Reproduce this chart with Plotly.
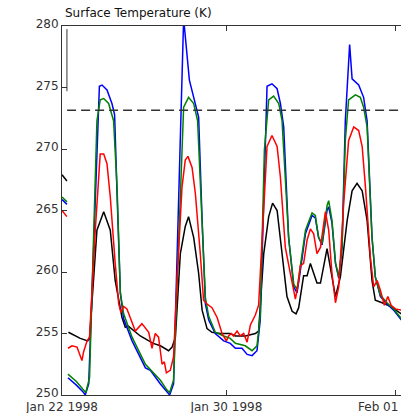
import plotly.graph_objects as go

# ---- axis labels / ticks ----
X_TICK_POS = [0, 8, 16.23]
X_TICK_LABELS = ["Jan 22 1998", "Jan 30 1998", "Feb 01 1998"]
Y_TICKS = [250, 255, 260, 265, 270, 275, 280]
FREEZING = 273.15
TITLE = "Surface Temperature (K)"

# ---- short stubs at the very left edge (earlier data) ----
STUB_T = [0.0, 0.24]
BLACK_STUB = [267.9, 267.4]
BLUE_STUB = [265.9, 265.5]
GREEN_STUB = [266.1, 265.7]
RED_STUB = [265.0, 264.5]

# ---- main series (time in days-like units, temperature in K) ----
BLACK_T = [0.31, 0.89, 1.25, 1.34, 1.70, 2.03, 2.35, 2.59, 2.92, 3.08, 3.23, 3.81, 4.44, 4.79,
           5.19, 5.36, 5.52, 5.76, 6.00, 6.16, 6.41, 6.65, 6.82, 7.06, 7.30, 7.71, 8.19, 8.44,
           8.93, 9.41, 9.57, 9.82, 10.06, 10.25, 10.47, 10.71, 10.95, 11.20, 11.39, 11.52,
           11.76, 11.93, 12.09, 12.41, 12.58, 12.90, 13.06, 13.31, 13.55, 13.88, 14.12, 14.36,
           14.61, 14.85, 15.09, 15.25, 15.58, 15.98, 16.52]
BLACK_V = [255.1, 254.6, 254.4, 254.6, 263.4, 264.9, 263.4, 259.3, 256.3, 255.5, 255.6, 254.8,
           254.2, 254.0, 253.6, 253.9, 254.7, 261.5, 263.7, 264.5, 262.8, 259.9, 256.9, 255.4,
           255.1, 255.0, 255.0, 254.8, 254.8, 255.0, 255.2, 261.5, 264.5, 265.6, 265.0, 261.5,
           258.0, 256.8, 256.6, 257.1, 259.7, 259.7, 260.7, 259.1, 259.1, 261.9, 260.4, 258.0,
           259.6, 264.2, 266.6, 267.2, 266.6, 264.2, 259.3, 257.7, 257.5, 257.2, 256.6]

BLUE_T = [0.29, 0.70, 1.05, 1.13, 1.30, 1.82, 1.95, 2.19, 2.43, 2.56, 2.69, 2.84, 3.00, 3.41,
          4.06, 4.30, 4.79, 5.11, 5.24, 5.43, 5.92, 6.20, 6.41, 6.65, 6.82, 6.98, 7.14, 7.46,
          7.87, 8.19, 8.44, 8.76, 9.01, 9.25, 9.49, 9.65, 9.98, 10.22, 10.47, 10.63, 10.79,
          11.03, 11.28, 11.44, 11.60, 11.85, 12.17, 12.33, 12.49, 12.66, 12.90, 12.98, 13.14,
          13.31, 13.47, 13.63, 13.79, 14.00, 14.12, 14.44, 14.68, 14.85, 15.09, 15.25, 15.50,
          15.82, 16.14, 16.52]
BLUE_V = [251.4, 250.8, 250.2, 250.0, 250.9, 275.1, 275.2, 274.8, 273.7, 272.8, 265.8, 258.3,
          256.2, 254.4, 252.2, 252.0, 250.9, 250.2, 250.0, 250.9, 280.6, 275.6, 274.2, 272.6,
          264.2, 257.4, 256.1, 255.0, 254.4, 254.2, 253.8, 253.8, 253.3, 253.2, 253.6, 256.1,
          275.1, 275.3, 274.9, 273.7, 271.8, 262.8, 258.8, 258.3, 260.1, 263.1, 264.6, 264.4,
          262.8, 262.2, 265.0, 265.3, 264.0, 260.7, 259.5, 262.0, 272.3, 278.5, 275.7, 275.2,
          274.2, 272.3, 262.8, 259.6, 258.0, 257.4, 256.9, 256.1]

GREEN_T = [0.29, 0.70, 1.05, 1.16, 1.34, 1.70, 1.86, 2.03, 2.27, 2.51, 2.68, 2.84, 3.00, 3.41,
           4.06, 4.30, 4.79, 5.11, 5.24, 5.43, 5.76, 5.92, 6.16, 6.41, 6.60, 6.82, 6.98, 7.14,
           7.46, 7.87, 8.19, 8.44, 8.92, 9.25, 9.49, 9.65, 9.85, 10.06, 10.30, 10.55, 10.71,
           11.03, 11.28, 11.44, 11.60, 11.85, 12.17, 12.33, 12.49, 12.66, 12.90, 12.98, 13.14,
           13.31, 13.47, 13.63, 13.79, 13.95, 14.28, 14.52, 14.68, 14.85, 15.09, 15.25, 15.50,
           15.82, 16.14, 16.52]
GREEN_V = [251.7, 251.1, 250.4, 250.2, 251.4, 272.3, 274.0, 274.1, 273.7, 272.3, 266.9, 258.3,
           256.6, 254.7, 252.5, 252.1, 251.2, 250.4, 250.2, 251.2, 265.8, 273.4, 274.2, 273.7,
           272.3, 264.2, 257.9, 256.4, 255.1, 254.8, 254.6, 254.2, 254.0, 253.6, 254.0, 256.5,
           269.9, 274.0, 274.3, 273.7, 272.3, 262.8, 259.0, 258.6, 260.5, 263.4, 264.8, 264.6,
           262.8, 262.3, 265.4, 265.8, 264.2, 260.8, 259.6, 262.0, 270.7, 274.0, 274.4, 274.2,
           273.4, 271.8, 262.8, 259.6, 258.1, 257.5, 257.0, 256.2]

RED_T = [0.29, 0.49, 0.73, 0.97, 1.05, 1.22, 1.34, 1.62, 1.86, 2.03, 2.19, 2.35, 2.59, 2.76,
         2.87, 3.00, 3.16, 3.33, 3.57, 3.89, 4.22, 4.38, 4.54, 4.70, 4.87, 4.98, 5.08, 5.27,
         5.43, 5.60, 5.84, 6.00, 6.13, 6.33, 6.49, 6.73, 6.89, 7.06, 7.30, 7.55, 7.79, 8.00,
         8.11, 8.24, 8.35, 8.52, 8.68, 8.84, 9.01, 9.17, 9.41, 9.57, 9.82, 9.98, 10.22, 10.47,
         10.63, 10.87, 11.11, 11.36, 11.52, 11.60, 11.76, 11.93, 12.09, 12.25, 12.41, 12.58,
         12.82, 12.98, 13.14, 13.31, 13.47, 13.71, 13.95, 14.20, 14.44, 14.61, 14.77, 15.01,
         15.17, 15.34, 15.50, 15.69, 15.86, 16.02, 16.23, 16.52]
RED_V = [253.8, 254.0, 253.9, 252.8, 253.5, 254.4, 254.7, 263.4, 269.6, 269.6, 268.8, 266.1,
         260.7, 257.4, 256.7, 257.2, 257.0, 256.3, 255.2, 255.8, 255.1, 253.8, 255.0, 254.7,
         252.5, 252.7, 251.8, 252.0, 253.1, 259.3, 266.9, 269.1, 269.4, 268.5, 266.4, 261.5,
         257.7, 257.4, 257.1, 256.3, 255.0, 254.4, 254.8, 255.0, 254.8, 255.2, 254.8, 255.0,
         254.3, 255.7, 256.5, 257.3, 265.6, 270.2, 271.1, 270.2, 267.7, 262.0, 259.9, 257.8,
         259.3, 260.5, 260.7, 262.6, 263.5, 263.1, 261.5, 262.0, 264.9, 263.4, 259.9, 257.5,
         258.8, 265.6, 270.7, 271.8, 271.5, 270.2, 266.9, 261.2, 258.8, 259.3, 258.5, 257.3,
         258.0, 257.3, 257.0, 256.9]

series = [
    ("black", "#000000", BLACK_STUB, BLACK_T, BLACK_V),
    ("blue", "#0000ff", BLUE_STUB, BLUE_T, BLUE_V),
    ("green", "#008000", GREEN_STUB, GREEN_T, GREEN_V),
    ("red", "#ff0000", RED_STUB, RED_T, RED_V),
]

fig = go.Figure()
for name, color, stub, t, v in series:
    fig.add_trace(go.Scatter(
        x=STUB_T + [None] + t,
        y=stub + [None] + v,
        mode="lines",
        name=name,
        line=dict(color=color, width=1.5),
        connectgaps=False,
        hoverinfo="skip",
    ))

fig.add_shape(type="line", xref="paper", yref="y", x0=0.015, x1=1,
              y0=FREEZING, y1=FREEZING,
              line=dict(color="#333333", width=1.6, dash="9px,5px"))
# inner frame fragment at top-left
fig.add_shape(type="line", xref="x", yref="y", x0=0.24, x1=0.24, y0=279.75, y1=274.7,
              line=dict(color="#333333", width=1))

axis_font = dict(family="DejaVu Sans", size=12, color="#333333")

# last x tick label sits at the right border and is cut there, drawn as annotation
fig.add_annotation(x=X_TICK_POS[-1], xref="x", y=0, yref="paper", yanchor="top",
                   yshift=-3, text=X_TICK_LABELS[-1], showarrow=False, font=axis_font,
                   xanchor="center")

fig.update_layout(
    width=401, height=413,
    margin=dict(l=62, r=0, t=26, b=18, pad=0),
    paper_bgcolor="white", plot_bgcolor="white",
    showlegend=False,
    title=dict(text=TITLE, x=65/401, xanchor="left", xref="container",
               y=1 - 13/413, yanchor="middle", yref="container",
               font=dict(family="DejaVu Sans", size=12, color="#111111")),
    xaxis=dict(range=[0, 16.5], tickmode="array", tickvals=X_TICK_POS,
               ticktext=X_TICK_LABELS[:-1] + [""],
               ticks="inside", ticklen=5, tickcolor="#333333", showline=True, linecolor="#333333",
               linewidth=1, mirror="ticks", showgrid=False, zeroline=False, tickfont=axis_font,
               automargin=False, ticklabelstandoff=1),
    yaxis=dict(range=[250, 280], tickmode="array", tickvals=Y_TICKS,
               ticks="inside", ticklen=5, tickcolor="#333333", showline=True, linecolor="#333333",
               linewidth=1, mirror=False, showgrid=False, zeroline=False, tickfont=axis_font,
               automargin=False, ticklabelshift=-2),
)

fig.write_html("out.html")
